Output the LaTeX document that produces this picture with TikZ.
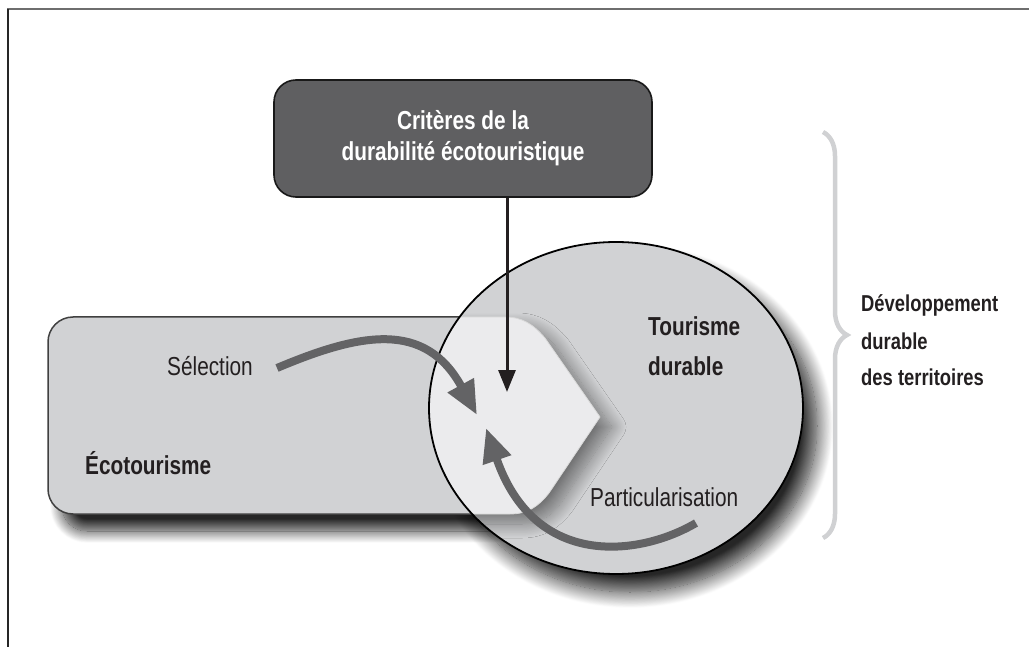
\documentclass[tikz,border=0pt]{standalone}
\usepackage{fontspec}
\setmainfont{Liberation Sans}[FakeStretch=0.8]
\usetikzlibrary{arrows.meta,shadows.blur,decorations.pathreplacing}
\definecolor{boxgray}{HTML}{D1D2D4}
\definecolor{lightin}{HTML}{EBEBED}
\definecolor{darkfill}{HTML}{5F5F61}
\definecolor{arrowgray}{HTML}{636365}
\definecolor{bracegray}{HTML}{D0D1D3}
\definecolor{txt}{HTML}{231F20}
\definecolor{framegray}{HTML}{6E6E6E}
\def\ecopath{(73,317) -- (505,317) .. controls (522,317) and (533,324) .. (545,338) -- (600,417) -- (549,493) .. controls (538,507) and (527,514) .. (510,514) -- (73,514) .. controls (59.2,514) and (48,502.8) .. (48,489) -- (48,342) .. controls (48,328.2) and (59.2,317) .. (73,317) -- cycle}
\begin{document}
\begin{tikzpicture}[x=1pt,y=-1pt,
  lbl/.style={inner sep=0pt, text=txt, font=\fontsize{26}{31}\selectfont},
  blbl/.style={inner sep=0pt, text=txt, font=\fontsize{26}{31}\selectfont\bfseries},
  rlbl/.style={inner sep=0pt, text=txt, font=\fontsize{23}{36}\selectfont\bfseries, anchor=base west},
  critbox/.style={draw=black!90, line width=1.6pt, fill=darkfill, rounded corners=22pt,
    minimum width=378pt, minimum height=117pt, inner sep=0pt, align=center, text=white,
    font=\fontsize{26}{31}\selectfont\bfseries},
  grayarrow/.style={draw=arrowgray, line width=8pt, -{Triangle[length=34pt,width=28pt]}},
  blackarrow/.style={draw=txt, line width=3pt, -{Triangle[length=22pt,width=17pt]}},
  bracestyle/.style={draw=bracegray, line width=4.5pt, decorate, decoration={brace, amplitude=24pt}}
]
\useasboundingbox (0,0) rectangle (1029,647);
% frame
\draw[framegray, line width=2pt] (7,9.5) -- (1029,9.5);
\draw[black!85, line width=2pt] (8,9.5) -- (8,647);
% circle shadow
\path[blur shadow={shadow xshift=14pt, shadow yshift=-18pt, shadow blur radius=16pt, shadow blur steps=20, shadow opacity=85}]
  (616,408) ellipse [x radius=187, y radius=166];
% ecotourism box
\draw[fill=boxgray, draw=black!75, line width=1.5pt,
  blur shadow={shadow xshift=14pt, shadow yshift=-17pt, shadow blur radius=12pt, shadow blur steps=20, shadow opacity=85}] \ecopath;
% circle
\fill[boxgray] (616,408) ellipse [x radius=187, y radius=166];
\begin{scope}
  \clip (616,408) ellipse [x radius=187, y radius=166];
  \path[fill=lightin, blur shadow={shadow xshift=12pt, shadow yshift=-10pt, shadow blur radius=14pt, shadow blur steps=20, shadow opacity=45}] \ecopath;
  \draw[black!15, line width=0.8pt] \ecopath;
\end{scope}
\draw[black, line width=1.8pt] (616,408) ellipse [x radius=187, y radius=166];
% criteria box
\node[critbox] (crit) at (463,138.5) {Critères de la\\durabilité écotouristique};
% coordinates
\coordinate (critTip) at (507,392);
\coordinate (selA) at (277,368);
\coordinate (selB) at (477,415);
\coordinate (parA) at (696,523);
\coordinate (parB) at (486,428);
\coordinate (brTop) at (823,132);
\coordinate (brBot) at (823,538);
% arrows
\draw[blackarrow] (crit.south -| critTip) -- (critTip);
\draw[grayarrow] (selA) .. controls (360,333) and (425,320) .. (selB);
\draw[grayarrow] (parA) .. controls (640,556) and (535,570) .. (parB);
% brace
\draw[bracestyle] (brTop) -- (brBot);
% labels
\node[lbl, anchor=base] (sel) at (210,375) {Sélection};
\node[blbl, anchor=base west] (eco) at (85,474) {Écotourisme};
\node[blbl, anchor=base west] (tour1) at (648,335) {Tourisme};
\node[blbl, anchor=base west] (tour2) at (648,375) {durable};
\node[lbl, anchor=base west] (part) at (590,506) {Particularisation};
\node[rlbl] (dev1) at (861,312) {Développement};
\node[rlbl] (dev2) at (861,349) {durable};
\node[rlbl] (dev3) at (861,385) {des territoires};
\end{tikzpicture}
\end{document}
